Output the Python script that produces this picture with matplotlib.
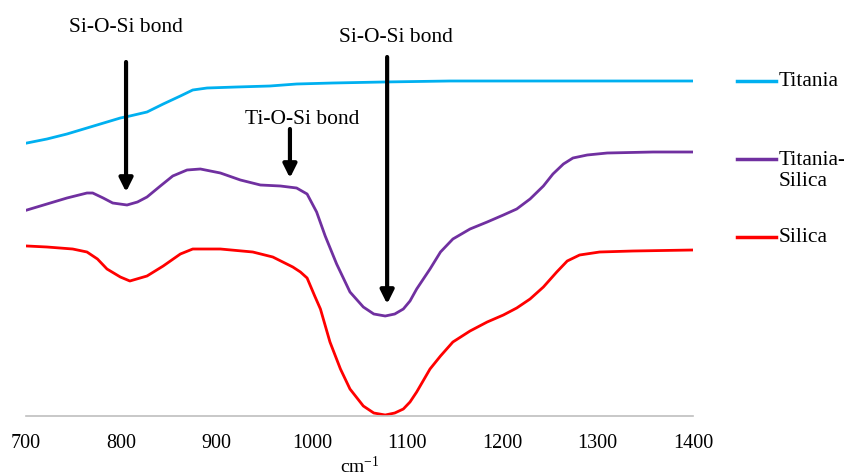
import matplotlib.pyplot as plt
from matplotlib.lines import Line2D

plt.rcParams['font.family'] = ['Liberation Serif', 'DejaVu Serif']
plt.rcParams['mathtext.default'] = 'regular'

# wavenumber (cm-1) and relative transmittance
titania_x = [701, 722, 743, 764, 785, 799, 809, 827, 844, 862, 875, 890, 921, 956, 984,
             1022, 1075, 1145, 1250, 1400]
titania_y = [68.25, 69.25, 70.5, 72.0, 73.5, 74.5, 75.0, 76.0, 78.0, 80.0, 81.5, 82.0, 82.25,
             82.5, 83.0, 83.25, 83.5, 83.75, 83.75, 83.75]

ts_x = [701, 722, 743, 764, 770, 781, 791, 806, 817, 827, 841, 854, 869, 883, 904, 925, 946,
        967, 984, 995, 1005, 1014, 1026, 1040, 1054, 1065, 1077, 1087, 1096, 1103, 1110, 1124,
        1135, 1148, 1166, 1184, 1201, 1215, 1229, 1243, 1253, 1264, 1274, 1289, 1310, 1358, 1400]
ts_y = [51.5, 53.0, 54.5, 55.75, 55.75, 54.5, 53.25, 52.75, 53.5, 54.75, 57.5, 60.0, 61.5,
        61.75, 60.75, 59.0, 57.75, 57.5, 57.0, 55.5, 51.0, 45.0, 38.0, 31.0, 27.25, 25.5, 25.0,
        25.5, 26.75, 28.75, 31.75, 36.75, 41.0, 44.25, 46.75, 48.5, 50.25, 51.75, 54.25, 57.5,
        60.5, 63.0, 64.5, 65.25, 65.75, 66.0, 66.0]

silica_x = [701, 722, 749, 764, 775, 785, 799, 809, 827, 844, 862, 875, 904, 938, 959, 980,
            988, 995, 1003, 1009, 1019, 1030, 1040, 1054, 1065, 1077, 1087, 1096, 1103, 1110,
            1124, 1135, 1148, 1166, 1184, 1201, 1215, 1229, 1243, 1257, 1268, 1281, 1302, 1337,
            1400]
silica_y = [42.5, 42.25, 41.75, 41.0, 39.25, 36.75, 34.75, 33.75, 35.0, 37.5, 40.5, 41.75,
            41.75, 41.0, 39.75, 37.25, 36.0, 34.5, 30.0, 26.75, 18.5, 11.75, 6.75, 2.5, 0.75,
            0.25, 0.75, 1.75, 3.5, 6.0, 11.75, 15.0, 18.5, 21.25, 23.5, 25.25, 27.0, 29.25,
            32.25, 36.0, 38.75, 40.25, 41.0, 41.25, 41.5]

names = ['Titania', 'Titania-\nSilica', 'Silica']
colors = ['#00B0F0', '#7030A0', '#FF0000']

# annotations: label, text position, arrow start, arrow tip
notes = [
    ('Si-O-Si bond', (805, 97.5), (805, 88.5), (805, 56.0)),
    ('Ti-O-Si bond', (990, 74.5), (977, 71.75), (977, 59.5)),
    ('Si-O-Si bond', (1088, 95.0), (1079, 89.75), (1079, 28.0)),
]

fig = plt.figure(figsize=(8.45, 4.77), dpi=100)
ax = fig.add_axes([26 / 845, 60 / 477, 667 / 845, 400 / 477])

series = [(titania_x, titania_y), (ts_x, ts_y), (silica_x, silica_y)]
for (xs, ys), c in zip(series, colors):
    ax.plot(xs, ys, color=c, lw=2.0, solid_joinstyle='round')

for label, txy, start, tip in notes:
    ax.text(txy[0], txy[1], label, ha='center', va='center', fontsize=15.5, clip_on=False)
    ax.annotate('', xy=tip, xytext=start,
                arrowprops=dict(arrowstyle='-|>,head_width=0.4,head_length=0.8',
                                color='black', lw=3, shrinkA=0, shrinkB=0))

ax.set_xlim(700, 1400)
ax.set_ylim(0, 100)
ax.set_xticks(range(700, 1401, 100))
ax.set_yticks([])
for s in ['top', 'right', 'left']:
    ax.spines[s].set_visible(False)
ax.spines['bottom'].set_color('#BFBFBF')
ax.spines['bottom'].set_linewidth(1.2)
ax.tick_params(axis='x', length=0, pad=12.5, labelsize=14.5)
ax.set_xlabel('cm$^{-1}$', fontsize=14, labelpad=1.5)

# legend drawn by hand to match the evenly spaced entries
leg_y = [82, 160, 238]
for name, c, y in zip(names, colors, leg_y):
    fig.add_artist(Line2D([737 / 845, 776 / 845], [1 - y / 477, 1 - y / 477], color=c, lw=2.5))
    if '\n' in name:
        fig.text(779 / 845, 1 - (y - 9) / 477, name, ha='left', va='top', fontsize=15.5,
                 linespacing=1.15)
    else:
        fig.text(779 / 845, 1 - y / 477, name, ha='left', va='center', fontsize=15.5)

fig.savefig('out.png', dpi=100)
